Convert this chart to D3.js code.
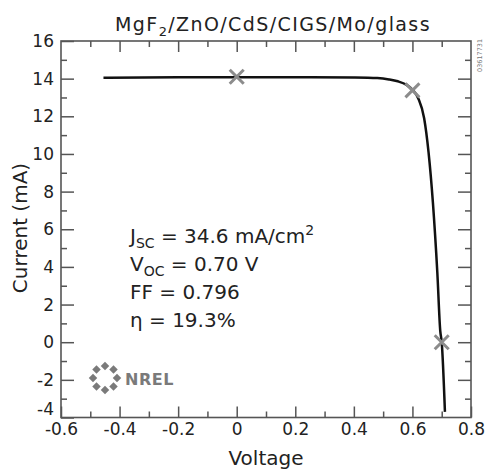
<!DOCTYPE html>
<meta charset="utf-8">
<html>
<head>
<style>
body { margin: 0; background: #fff; }
text { font-family: "DejaVu Sans", sans-serif; }
.frame { fill: none; stroke: #555; stroke-width: 1.6px; }
.tick line { stroke: #555; stroke-width: 1.5px; }
</style>
</head>
<body>
<svg width="485" height="472"></svg>
<script src="https://cdn.jsdelivr.net/npm/d3@7"></script>
<script>

// I-V curve
var voltage = [-0.455, -0.2, 0, 0.2, 0.4, 0.48, 0.52, 0.55, 0.58, 0.60, 0.62, 0.64, 0.655, 0.67, 0.685, 0.695, 0.70, 0.711];
var current = [14.05, 14.07, 14.08, 14.08, 14.06, 14.03, 13.96, 13.86, 13.67, 13.42, 12.95, 11.9, 10.1, 7.4, 3.7, 0.6, 0, -3.7];

// gray X markers
var markV = [0, 0.6, 0.70];
var markI = [14.1, 13.38, 0];

var xTicks = [-0.6, -0.4, -0.2, 0, 0.2, 0.4, 0.6, 0.8];
var yTicks = [-4, -2, 0, 2, 4, 6, 8, 10, 12, 14, 16];

var svg = d3.select("svg");
var mLeft = 61, mRight = 471, mTop = 41, mBottom = 417.5;

var x = d3.scaleLinear().domain([-0.6, 0.8]).range([mLeft, mRight]);
var y = d3.scaleLinear().domain([-4, 16]).range([mBottom, mTop]);

var xMinor = [-0.5, -0.3, -0.1, 0.1, 0.3, 0.5, 0.7];
var yMinor = [-3, -1, 1, 3, 5, 7, 9, 11, 13, 15];

function fmtX(d){ return d === 0 ? "0" : d3.format(".1f")(d).replace("\u2212", "-"); }

// bottom axis, ticks pointing in
var gB = svg.append("g").attr("transform", "translate(0," + mBottom + ")");
gB.call(d3.axisBottom(x).tickValues(xTicks).tickSize(-11).tickPadding(5).tickFormat(fmtX));
gB.append("g").call(d3.axisBottom(x).tickValues(xMinor).tickSize(-6).tickFormat(""));
// top axis
var gT = svg.append("g").attr("transform", "translate(0," + mTop + ")");
gT.call(d3.axisTop(x).tickValues(xTicks.slice(1, -1)).tickSize(-11).tickFormat(""));
gT.append("g").call(d3.axisTop(x).tickValues(xMinor).tickSize(-6).tickFormat(""));
// left axis
var gL = svg.append("g").attr("transform", "translate(" + mLeft + ",0)");
gL.call(d3.axisLeft(y).tickValues(yTicks).tickSize(-13).tickPadding(7).tickFormat(function(d){ return String(d); }));
gL.append("g").call(d3.axisLeft(y).tickValues(yMinor).tickSize(-6).tickFormat(""));
// the bottom label sits a little higher so it clears -0.6
gL.selectAll(".tick").filter(function(d){ return d === -4; }).select("text").attr("dy", "-0.2em");
// right axis
var gR = svg.append("g").attr("transform", "translate(" + mRight + ",0)");
gR.call(d3.axisRight(y).tickValues(yTicks.slice(1, -1)).tickSize(-13).tickFormat(""));
gR.append("g").call(d3.axisRight(y).tickValues(yMinor).tickSize(-6).tickFormat(""));

svg.selectAll(".domain").remove();
svg.selectAll(".tick text").attr("font-size", 17).attr("font-family", "DejaVu Sans, sans-serif").attr("fill", "#222");

svg.append("rect").attr("class", "frame")
    .attr("x", mLeft).attr("y", mTop)
    .attr("width", mRight - mLeft).attr("height", mBottom - mTop);

// curve
var pts = voltage.map(function(v, i){ return [v, current[i]]; });
svg.append("path")
    .datum(pts)
    .attr("fill", "none").attr("stroke", "#111").attr("stroke-width", 2.5)
    .attr("d", d3.line().x(function(d){ return x(d[0]); }).y(function(d){ return y(d[1]); }).curve(d3.curveMonotoneX));

// markers
var mk = svg.selectAll(".mark").data(markV).enter().append("g")
    .attr("class", "mark")
    .attr("transform", function(d, i){ return "translate(" + x(d) + "," + y(markI[i]) + ")"; });
mk.append("path").attr("d", "M-7,-7L7,7M-7,7L7,-7")
    .attr("stroke", "#8c8c8c").attr("stroke-width", 3).attr("fill", "none");

// titles
svg.append("text").attr("x", 273).attr("y", 31).attr("text-anchor", "middle")
    .attr("font-size", 19).attr("letter-spacing", 1.4).attr("fill", "#222")
    .html('MgF<tspan font-size="13" dy="5">2</tspan><tspan dy="-5">/ZnO/CdS/CIGS/Mo/glass</tspan>');
svg.append("text").attr("x", 266).attr("y", 465).attr("text-anchor", "middle")
    .attr("font-size", 20).attr("fill", "#222").text("Voltage");
svg.append("text").attr("transform", "translate(27,228) rotate(-90)").attr("text-anchor", "middle")
    .attr("font-size", 20).attr("fill", "#222").text("Current (mA)");

// figure id
svg.append("text").attr("transform", "translate(482,72) rotate(-90)")
    .attr("font-size", 6.5).attr("fill", "#777").text("03617731");

// results
var ann = svg.append("g").attr("font-size", 20).attr("fill", "#222");
ann.append("text").attr("x", 130).attr("y", 243)
    .html('J<tspan font-size="14" dy="5">SC</tspan><tspan dy="-5"> = 34.6 mA/cm</tspan><tspan font-size="14" dy="-8">2</tspan>');
ann.append("text").attr("x", 130).attr("y", 271)
    .html('V<tspan font-size="14" dy="5">OC</tspan><tspan dy="-5"> = 0.70 V</tspan>');
ann.append("text").attr("x", 130).attr("y", 299).text("FF = 0.796");
ann.append("text").attr("x", 130).attr("y", 327).text("η = 19.3%");

// NREL logo
var logo = svg.append("g").attr("transform", "translate(105,378)");
d3.range(8).forEach(function(k){
  var a = k * Math.PI / 4;
  logo.append("rect").attr("x", -3).attr("y", -3).attr("width", 6).attr("height", 6)
      .attr("fill", "#7a7a7a")
      .attr("transform", "translate(" + (12*Math.cos(a)) + "," + (12*Math.sin(a)) + ") rotate(45)");
});
logo.append("text").attr("x", 20).attr("y", 7).attr("font-size", 16).attr("font-weight", "bold")
    .attr("letter-spacing", 0.5).attr("fill", "#7a7a7a").text("NREL");

</script>
</body>
</html>
